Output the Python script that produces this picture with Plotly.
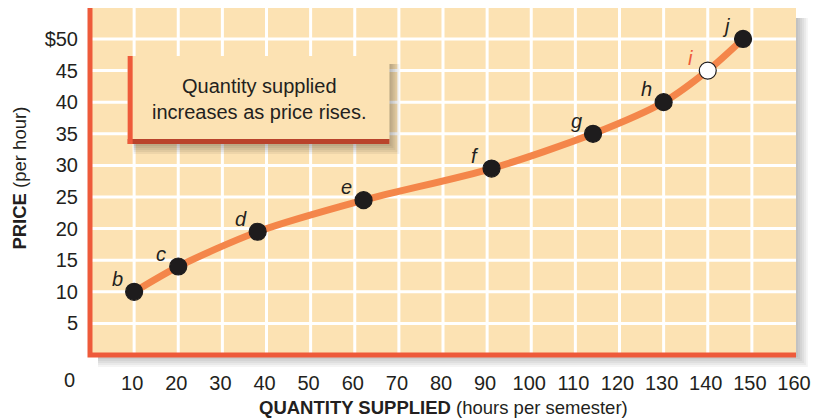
import plotly.graph_objects as go

# Supply schedule: hours supplied per semester at each hourly price
quantity = [10, 20, 38, 62, 91, 114, 130, 140, 148]
price = [10, 14, 19.5, 24.5, 29.5, 35, 40, 45, 50]
point_names = ["b", "c", "d", "e", "f", "g", "h", "i", "j"]
hollow_point = "i"

x_ticks = list(range(10, 161, 10))
y_ticks = [5, 10, 15, 20, 25, 30, 35, 40, 45, 50]
y_tick_text = ["5", "10", "15", "20", "25", "30", "35", "40", "45", "$50"]

box_text = "Quantity supplied<br>increases as price rises."

# ---- styling ----
W, H = 819, 420
ML, MR, MT, MB = 90, 17, 8, 65
PW, PH = W - ML - MR, H - MT - MB
X_RANGE = [0, 160]
Y_RANGE = [0, 54.9]

PEACH = "#FCE2B3"
RED = "#EE5A3A"
DARK_RED = "#B9432B"
ORANGE = "#F4864A"
INK = "#231F20"
FONT = "Liberation Sans, Arial, sans-serif"


def pxx(p):
    """pixel column -> paper x"""
    return (p - ML) / PW


def pxy(p):
    """pixel row -> paper y"""
    return (H - MB - p) / PH


fig = go.Figure()

fig.add_trace(go.Scatter(
    x=quantity, y=price, mode="lines",
    line=dict(color=ORANGE, width=7, shape="spline", smoothing=0.8),
    hoverinfo="skip", showlegend=False,
))
fig.add_trace(go.Scatter(
    x=quantity, y=price, mode="markers",
    marker=dict(
        size=17,
        color=["white" if n == hollow_point else "#1E1C1D" for n in point_names],
        line=dict(color="#1E1C1D", width=1.2),
    ),
    showlegend=False,
))

shapes = []
# drop shadow of the chart panel
for k in range(1, 7):
    shapes.append(dict(
        type="rect", xref="paper", yref="paper", layer="below",
        x0=pxx(ML + 8), x1=pxx(W - MR + 2 * k),
        y0=pxy(H - MB + 2 * k), y1=pxy(MT + 10),
        fillcolor="rgba(0,0,0,0.045)", line=dict(width=0),
    ))
# panel fill
shapes.append(dict(
    type="rect", xref="paper", yref="paper", layer="below",
    x0=0, x1=1, y0=0, y1=1, fillcolor=PEACH, line=dict(width=0),
))
# white grid lines (none on the right edge of the panel)
for xv in x_ticks:
    if X_RANGE[0] < xv < X_RANGE[1]:
        shapes.append(dict(
            type="line", xref="x", yref="paper", layer="below",
            x0=xv, x1=xv, y0=0, y1=1, line=dict(color="white", width=3),
        ))
for yv in y_ticks:
    shapes.append(dict(
        type="line", xref="paper", yref="y", layer="below",
        x0=0, x1=1, y0=yv, y1=yv, line=dict(color="white", width=3),
    ))
# red axis frame (left and bottom)
shapes.append(dict(
    type="path", xref="paper", yref="paper", layer="above",
    path="M 0,1 L 0,0 L 1,0", line=dict(color=RED, width=5),
))

# callout box
bx0, bx1, by0, by1 = 128, 392, 56, 144
for k in range(1, 6):
    shapes.append(dict(
        type="rect", xref="paper", yref="paper", layer="above",
        x0=pxx(bx0 + 6), x1=pxx(bx1 + 2 * k),
        y0=pxy(by1 + 2 * k), y1=pxy(by0 + 8),
        fillcolor="rgba(0,0,0,0.055)", line=dict(width=0),
    ))
shapes.append(dict(
    type="rect", xref="paper", yref="paper", layer="above",
    x0=pxx(bx0), x1=pxx(bx1), y0=pxy(by1), y1=pxy(by0),
    fillcolor=PEACH, line=dict(width=0),
))
shapes.append(dict(
    type="line", xref="paper", yref="paper", layer="above",
    x0=pxx(bx0), x1=pxx(bx1), y0=pxy(by1 - 2.5), y1=pxy(by1 - 2.5),
    line=dict(color=DARK_RED, width=5),
))
shapes.append(dict(
    type="line", xref="paper", yref="paper", layer="above",
    x0=pxx(bx0 + 2.5), x1=pxx(bx0 + 2.5), y0=pxy(by1), y1=pxy(by0),
    line=dict(color=RED, width=5),
))

annotations = []
for qx, py_, name in zip(quantity, price, point_names):
    annotations.append(dict(
        x=qx, y=py_, xref="x", yref="y", showarrow=False,
        xanchor="center", yanchor="middle",
        text=f"<i>{name}</i>", xshift=-17, yshift=13,
        font=dict(family=FONT, size=20,
                  color=RED if name == hollow_point else INK),
    ))
annotations.append(dict(
    x=pxx((bx0 + bx1) / 2 + 1), y=pxy((by0 + by1) / 2 - 1),
    xref="paper", yref="paper", showarrow=False, text=box_text,
    xanchor="center", yanchor="middle",
    font=dict(family=FONT, size=20, color=INK), align="center",
))
# origin label
annotations.append(dict(
    x=0, y=0, xref="x", yref="y", showarrow=False, text="0",
    xanchor="center", yanchor="middle",
    xshift=-21, yshift=-25, font=dict(family=FONT, size=20, color=INK),
))
# axis titles
annotations.append(dict(
    x=pxx(18), y=pxy(178), xref="paper", yref="paper", showarrow=False,
    xanchor="center", yanchor="middle",
    textangle=-90, text="<b>PRICE</b> (per hour)",
    font=dict(family=FONT, size=18.5, color=INK),
))
annotations.append(dict(
    x=pxx(447), y=pxy(407), xref="paper", yref="paper", showarrow=False,
    xanchor="center", yanchor="middle",
    text="<b>QUANTITY SUPPLIED</b> (hours per semester)",
    font=dict(family=FONT, size=18.5, color=INK),
))

fig.update_layout(
    width=W, height=H,
    margin=dict(l=ML, r=MR, t=MT, b=MB),
    paper_bgcolor="white", plot_bgcolor="rgba(0,0,0,0)",
    shapes=shapes, annotations=annotations,
    xaxis=dict(
        range=X_RANGE, tickvals=x_ticks, showgrid=False,
        zeroline=False, showline=False,
        ticks="", ticklabelstandoff=14, ticklabelshift=-2,
        tickfont=dict(family=FONT, size=20, color=INK),
    ),
    yaxis=dict(
        range=Y_RANGE, tickvals=y_ticks, ticktext=y_tick_text,
        showgrid=False, zeroline=False,
        showline=False, ticks="", ticklabelstandoff=11,
        tickfont=dict(family=FONT, size=20, color=INK),
    ),
    hovermode=False,
)

fig.write_html("out.html")
